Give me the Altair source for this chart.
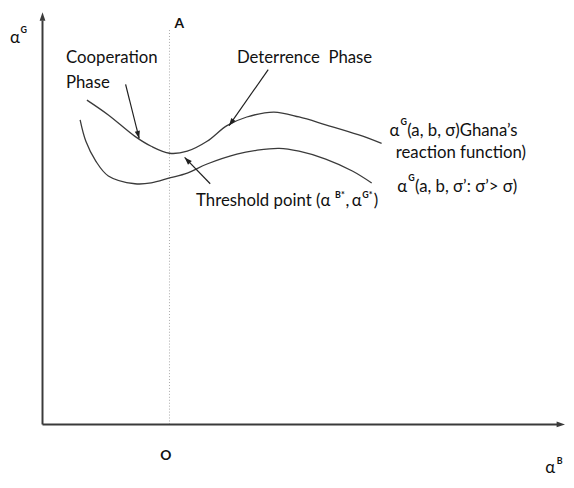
import math
import altair as alt
import pandas as pd

# Diagram coordinates: origin where the axes cross, each axis runs 0..100
upper_x = [8.5, 12.6, 17.7, 20.8, 24.3, 27.7, 31.5, 35.3, 39.1, 44.3, 49.1, 54.2, 60.4, 64.9]
upper_y = [78.7, 75.1, 69.9, 67.5, 65.8, 66.3, 68.7, 72.5, 74.6, 75.8, 74.6, 72.7, 70.3, 68.2]
lower_x = [7.2, 8.3, 10.2, 12.6, 17.7, 20.8, 24.3, 27.7, 31.5, 37.2, 40.9, 45.3, 49.1, 54.2, 59.3, 63.0]
lower_y = [73.9, 68.7, 63.9, 60.3, 58.4, 58.6, 59.8, 61.0, 63.2, 65.6, 66.5, 67.0, 66.3, 64.4, 61.5, 58.6]

threshold_x = 24.3
threshold_top = 95.7

axis_line_x_end = 99.0
axis_line_y_end = 98.0
axis_tip = 100.0

arrow_tail_x = [15.9, 43.2, 32.1]
arrow_tail_y = [82.5, 86.1, 58.4]
arrow_tip_x = [18.5, 35.7, 27.2]
arrow_tip_y = [69.4, 72.5, 64.8]

main_text = ["Cooperation", "Phase", "Deterrence\u00a0 Phase",
             "α", "(a, b, σ)Ghana’s", "reaction function)",
             "α", "(a, b, σ’: σ’> σ)",
             "Threshold point (α", ",", "α", ")",
             "α", "α"]
main_x = [4.5, 4.5, 37.2,
          66.4, 69.8, 67.6,
          67.9, 71.3,
          29.4, 58.0, 59.2, 63.4,
          -6.2, 96.2]
main_y = [89.0, 82.8, 89.0,
          71.3, 71.3, 65.8,
          57.7, 57.7,
          54.3, 54.3, 54.3, 54.3,
          93.8, -10.5]

sup_text = ["G", "G", "B*", "G*", "G", "B"]
sup_x = [68.5, 70.0, 56.0, 61.2, -4.2, 98.4]
sup_y = [73.4, 59.8, 55.6, 55.6, 95.7, -8.9]

mark_text_labels = ["A", "O"]
mark_text_x = [26.2, 23.6]
mark_text_y = [97.1, -7.6]

W, H = 566, 472
XDOM = [-6.604, 100.19]
YDOM = [-12.68, 100.24]
KX = W / (XDOM[1] - XDOM[0])
KY = H / (YDOM[1] - YDOM[0])

INK = "#3a3a3a"
TXT = "#111111"
FONT = "Lato"
HEAD = "M0,0L-0.45,1.3L0.45,1.3Z"


def X(field):
    return alt.X(field, type="quantitative",
                 scale=alt.Scale(domain=XDOM, nice=False, zero=False), axis=None)


def Y(field):
    return alt.Y(field, type="quantitative",
                 scale=alt.Scale(domain=YDOM, nice=False, zero=False), axis=None)


def screen_angle(tx, ty, hx, hy):
    dx = (hx - tx) * KX
    dy = -(hy - ty) * KY
    return math.degrees(math.atan2(dx, -dy)) % 360


curves = pd.DataFrame({
    "x": upper_x + lower_x,
    "y": upper_y + lower_y,
    "curve": ["upper"] * len(upper_x) + ["lower"] * len(lower_x),
})

curve_layer = alt.Chart(curves).mark_line(
    color=INK, strokeWidth=1.3, interpolate="catmull-rom"
).encode(x=X("x"), y=Y("y"), detail="curve:N")

axes_df = pd.DataFrame({
    "x": [0.0, 0.0], "x2": [0.0, axis_line_x_end],
    "y": [0.0, 0.0], "y2": [axis_line_y_end, 0.0],
})
axes_layer = alt.Chart(axes_df).mark_rule(color=INK, strokeWidth=2).encode(
    x=X("x"), x2="x2:Q", y=Y("y"), y2="y2:Q"
)

axis_heads = pd.DataFrame({
    "x": [0.0, axis_tip], "y": [axis_tip, 0.0], "angle": [0.0, 90.0]
})
axis_head_layer = alt.Chart(axis_heads).mark_point(
    shape=HEAD, filled=True, color=INK, opacity=1, size=170, strokeWidth=0
).encode(x=X("x"), y=Y("y"), angle=alt.Angle("angle:Q", scale=None))

dotted_df = pd.DataFrame({"x": [threshold_x], "y": [0.0], "y2": [threshold_top]})
dotted_layer = alt.Chart(dotted_df).mark_rule(
    color="#a8a8a8", strokeWidth=1, strokeDash=[1, 2]
).encode(x=X("x"), y=Y("y"), y2="y2:Q")

arrows = pd.DataFrame({
    "x": arrow_tail_x, "y": arrow_tail_y, "x2": arrow_tip_x, "y2": arrow_tip_y,
})
arrows["angle"] = [screen_angle(a, b, c, d) for a, b, c, d in
                   zip(arrow_tail_x, arrow_tail_y, arrow_tip_x, arrow_tip_y)]

arrow_line_layer = alt.Chart(arrows).mark_rule(color="#202020", strokeWidth=1.2).encode(
    x=X("x"), y=Y("y"), x2="x2:Q", y2="y2:Q"
)
arrow_head_layer = alt.Chart(arrows).mark_point(
    shape=HEAD, filled=True, color="#202020", opacity=1, size=140, strokeWidth=0
).encode(x=X("x2"), y=Y("y2"), angle=alt.Angle("angle:Q", scale=None))

main_df = pd.DataFrame({"label": main_text, "x": main_x, "y": main_y})
main_layer = alt.Chart(main_df).mark_text(
    align="left", baseline="middle", font=FONT, fontSize=17, color=TXT
).encode(x=X("x"), y=Y("y"), text="label:N")

sup_df = pd.DataFrame({"label": sup_text, "x": sup_x, "y": sup_y})
sup_layer = alt.Chart(sup_df).mark_text(
    align="left", baseline="middle", font=FONT, fontSize=9, fontWeight="bold", color=TXT
).encode(x=X("x"), y=Y("y"), text="label:N")

center_df = pd.DataFrame({"label": mark_text_labels, "x": mark_text_x, "y": mark_text_y})
center_layer = alt.Chart(center_df).mark_text(
    align="center", baseline="middle", font=FONT, fontSize=14, fontWeight="bold", color=TXT
).encode(x=X("x"), y=Y("y"), text="label:N")

chart = alt.layer(
    dotted_layer, axes_layer, axis_head_layer, curve_layer,
    arrow_line_layer, arrow_head_layer, main_layer, sup_layer, center_layer,
).properties(
    width=W, height=H, padding=0,
    autosize=alt.AutoSizeParams(type="none"),
    background="white",
).configure_view(stroke=None)

chart.save("out.html", embed_options={"renderer": "svg", "actions": False})
